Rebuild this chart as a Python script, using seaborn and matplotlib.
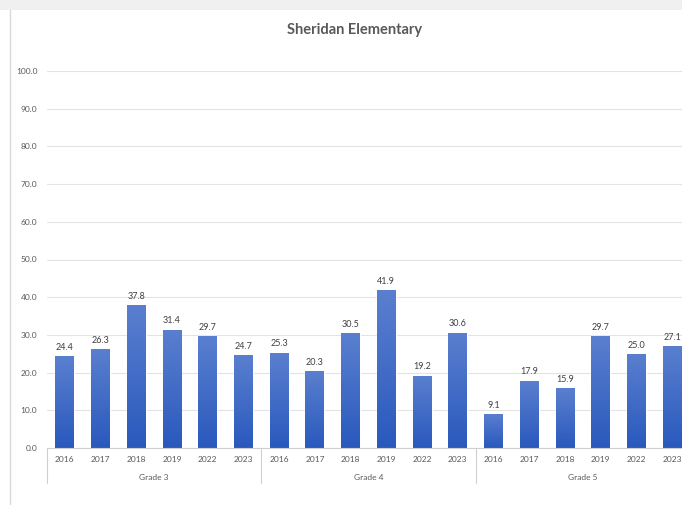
import numpy as np
import pandas as pd
import matplotlib
matplotlib.use("Agg")
import matplotlib.pyplot as plt
import matplotlib.transforms as mtransforms
from matplotlib.colors import LinearSegmentedColormap
from matplotlib.patches import Rectangle
from matplotlib.lines import Line2D
import seaborn as sns

# Chart data
grades = ['Grade 3', 'Grade 4', 'Grade 5']
years = ['2016', '2017', '2018', '2019', '2022', '2023']
grade3 = [24.4, 26.3, 37.8, 31.4, 29.7, 24.7]
grade4 = [25.3, 20.3, 30.5, 41.9, 19.2, 30.6]
grade5 = [9.1, 17.9, 15.9, 29.7, 25.0, 27.1]
y_ticks = [0, 10, 20, 30, 40, 50, 60, 70, 80, 90, 100]

rows = []
for g, vals in zip(grades, [grade3, grade4, grade5]):
    for yr, v in zip(years, vals):
        rows.append({'slot': g + ' ' + yr, 'grade': g, 'year': yr, 'value': v})
df = pd.DataFrame(rows)
slots = list(df['slot'])

sns.set_theme(style="white")
plt.rcParams['font.family'] = ['Lato', 'DejaVu Sans']

fig = plt.figure(figsize=(6.82, 5.05), dpi=100)
fig.patch.set_facecolor('white')
ax = fig.add_axes([47 / 682, 57 / 505, 643 / 682, 377 / 505])

sns.barplot(x='slot', y='value', data=df, order=slots, color='#3a66c4',
            width=0.53, ax=ax, zorder=2)

ax.set_ylim(0, 100)
ax.set_xlim(-0.5, len(slots) - 0.5)
ax.set_yticks(y_ticks)
ax.set_yticklabels([f'{t:.1f}' for t in y_ticks], fontsize=6, color='#595959')
ax.set_xticks(range(len(slots)))
ax.set_xticklabels(list(df['year']), fontsize=6, color='#595959')
ax.tick_params(axis='both', length=0, pad=7)
ax.tick_params(axis='x', pad=6)
ax.yaxis.grid(True, color='#e3e3e3', linewidth=0.8, zorder=0)
ax.set_axisbelow(True)
for s in ['top', 'right', 'left']:
    ax.spines[s].set_visible(False)
ax.spines['bottom'].set_color('#d0d0d0')
ax.spines['bottom'].set_linewidth(0.8)
ax.set_xlabel('')
ax.set_ylabel('')

# gradient fill on bars
cmap = LinearSegmentedColormap.from_list('bluegrad', ['#2a59bd', '#5a7fcf'])
grad = np.linspace(0, 1, 100).reshape(-1, 1)
for p in ax.patches:
    x0, w, h = p.get_x(), p.get_width(), p.get_height()
    im = ax.imshow(grad, extent=[x0, x0 + w, 0, h], origin='lower', aspect='auto',
                   cmap=cmap, zorder=2.5)
    im.set_clip_path(p)
ax.set_xlim(-0.5, len(slots) - 0.5)
ax.set_ylim(0, 100)

ax.bar_label(ax.containers[0], fmt='%.1f', padding=3, fontsize=6.5, color='#404040')

# multi-level category axis
trans = mtransforms.blended_transform_factory(ax.transData, ax.transAxes)
n = len(years)
for i in range(len(grades) + 1):
    xb = i * n - 0.5
    ax.add_line(Line2D([xb, xb], [0, -0.093], transform=trans, color='#d0d0d0',
                       linewidth=0.8, clip_on=False))
for i, g in enumerate(grades):
    ax.text(i * n + (n - 1) / 2, -0.078, g, transform=trans, ha='center', va='center',
            fontsize=6, color='#595959')

# chart frame
fig.add_artist(Rectangle((0, 1 - 10 / 505), 1, 10 / 505, transform=fig.transFigure,
                         facecolor='#f0f0f0', edgecolor='none'))
fig.add_artist(Line2D([10 / 682, 10 / 682], [0, 1 - 10 / 505], transform=fig.transFigure,
                      color='#d9d9d9', linewidth=1))

fig.text(355 / 682, 1 - 30 / 505, 'Sheridan Elementary', ha='center', va='center',
         fontsize=10.5, fontweight='bold', color='#595959')

fig.savefig('out.png', dpi=100)
